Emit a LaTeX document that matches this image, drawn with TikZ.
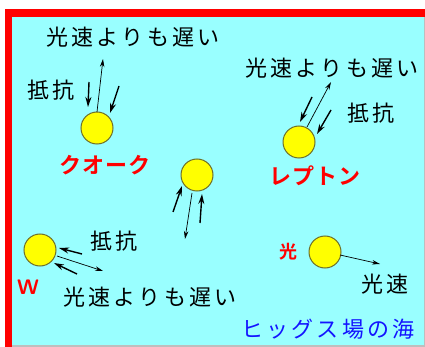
\documentclass[tikz,border=0pt]{standalone}
\usepackage{fontspec}
\usetikzlibrary{arrows.meta}
\newfontfamily\jp{Noto Sans CJK JP}[LetterSpace=15]
\newfontfamily\jpb{Noto Sans CJK JP Bold}[LetterSpace=5]
\definecolor{sea}{RGB}{153,255,255}
\definecolor{frame}{RGB}{255,0,0}
\definecolor{ballfill}{RGB}{255,255,0}
\definecolor{ballline}{RGB}{110,110,40}
\definecolor{higgsblue}{RGB}{20,20,255}
\definecolor{edgegray}{RGB}{190,190,190}
\tikzset{
  ball/.style={circle, fill=ballfill, draw=ballline, line width=1pt, minimum size=32pt, inner sep=0pt},
  blk/.style={font=\jp\fontsize{22}{22}\selectfont, text=black, inner sep=0pt},
  redlbl/.style={font=\jpb\fontsize{22}{22}\selectfont, text=frame, inner sep=0pt},
  resist/.style={line width=1.4pt, -{Stealth[length=10pt,width=6pt]}},
  motion/.style={line width=0.7pt, -{Stealth[length=8pt,width=4.5pt]}},
}
\begin{document}
\begin{tikzpicture}[x=1pt,y=-1pt]
\useasboundingbox (0,0) rectangle (425,347);
\fill[white] (0,0) rectangle (425,347);
\fill[sea] (12,17) rectangle (424,345);
\fill[edgegray] (12,345) rectangle (425,347);
\fill[edgegray] (424,17) rectangle (425,345);
\fill[frame] (5,9) rectangle (425,17);
\fill[frame] (5,9) rectangle (12,347);

% balls
\node[ball] (quark) at (97,128) {};
\node[ball] (lepton) at (299,142) {};
\node[ball] (mid) at (197,175) {};
\node[ball] (wb) at (40,250) {};
\node[ball] (light) at (325,252) {};

% texts
\node[blk] (t1) at (133,37) {光速よりも遅い};
\node[blk] (r1) at (51,90) {抵抗};
\node[redlbl] (lq) at (105,165) {クオーク};
\node[blk] (t2) at (332,68) {光速よりも遅い};
\node[blk] (r2) at (371,113) {抵抗};
\node[redlbl] (ll) at (315,176) {レプトン};
\node[blk] (r3) at (114,241) {抵抗};
\node[font=\sffamily\bfseries\fontsize{21}{21}\selectfont, text=frame, inner sep=0pt] (lw) at (28,287) {W};
\node[blk] (t3) at (150,297) {光速よりも遅い};
\node[font=\jpb\fontsize{18}{18}\selectfont, text=frame, inner sep=0pt] (lg) at (288,252) {光};
\node[blk] (t4) at (385,284) {光速};
\node[font=\jp\fontsize{22}{22}\selectfont, text=higgsblue, inner sep=0pt] (sea) at (328,329) {ヒッグス場の海};

% quark arrows
\coordinate (qa1) at (89,82);  \coordinate (qa2) at (88,107);
\coordinate (qm1) at (97,112); \coordinate (qm2) at (103,59);
\coordinate (qb1) at (119,86); \coordinate (qb2) at (110,113);
\draw[resist] (qa1) -- (qa2);
\draw[motion] (qm1) -- (qm2);
\draw[resist] (qb1) -- (qb2);

% lepton arrows
\coordinate (la1) at (312,97);  \coordinate (la2) at (300,122);
\coordinate (lm1) at (307,127); \coordinate (lm2) at (331,82);
\coordinate (lb1) at (331,110); \coordinate (lb2) at (317,134);
\draw[resist] (la1) -- (la2);
\draw[motion] (lm1) -- (lm2);
\draw[resist] (lb1) -- (lb2);

% middle arrows
\coordinate (ma1) at (173,212); \coordinate (ma2) at (182,186);
\coordinate (mm1) at (192,193); \coordinate (mm2) at (185,239);
\coordinate (mb1) at (200,223); \coordinate (mb2) at (202,194);
\draw[resist] (ma1) -- (ma2);
\draw[motion] (mm1) -- (mm2);
\draw[resist] (mb1) -- (mb2);

% W arrows
\coordinate (wa1) at (82,254); \coordinate (wa2) at (59,248);
\coordinate (wm1) at (57,256); \coordinate (wm2) at (103,271);
\coordinate (wc1) at (77,274); \coordinate (wc2) at (54,263);
\draw[resist] (wa1) -- (wa2);
\draw[motion] (wm1) -- (wm2);
\draw[resist] (wc1) -- (wc2);

% light arrow
\coordinate (g1) at (340,255); \coordinate (g2) at (380,264);
\draw[motion] (g1) -- (g2);
\end{tikzpicture}
\end{document}
